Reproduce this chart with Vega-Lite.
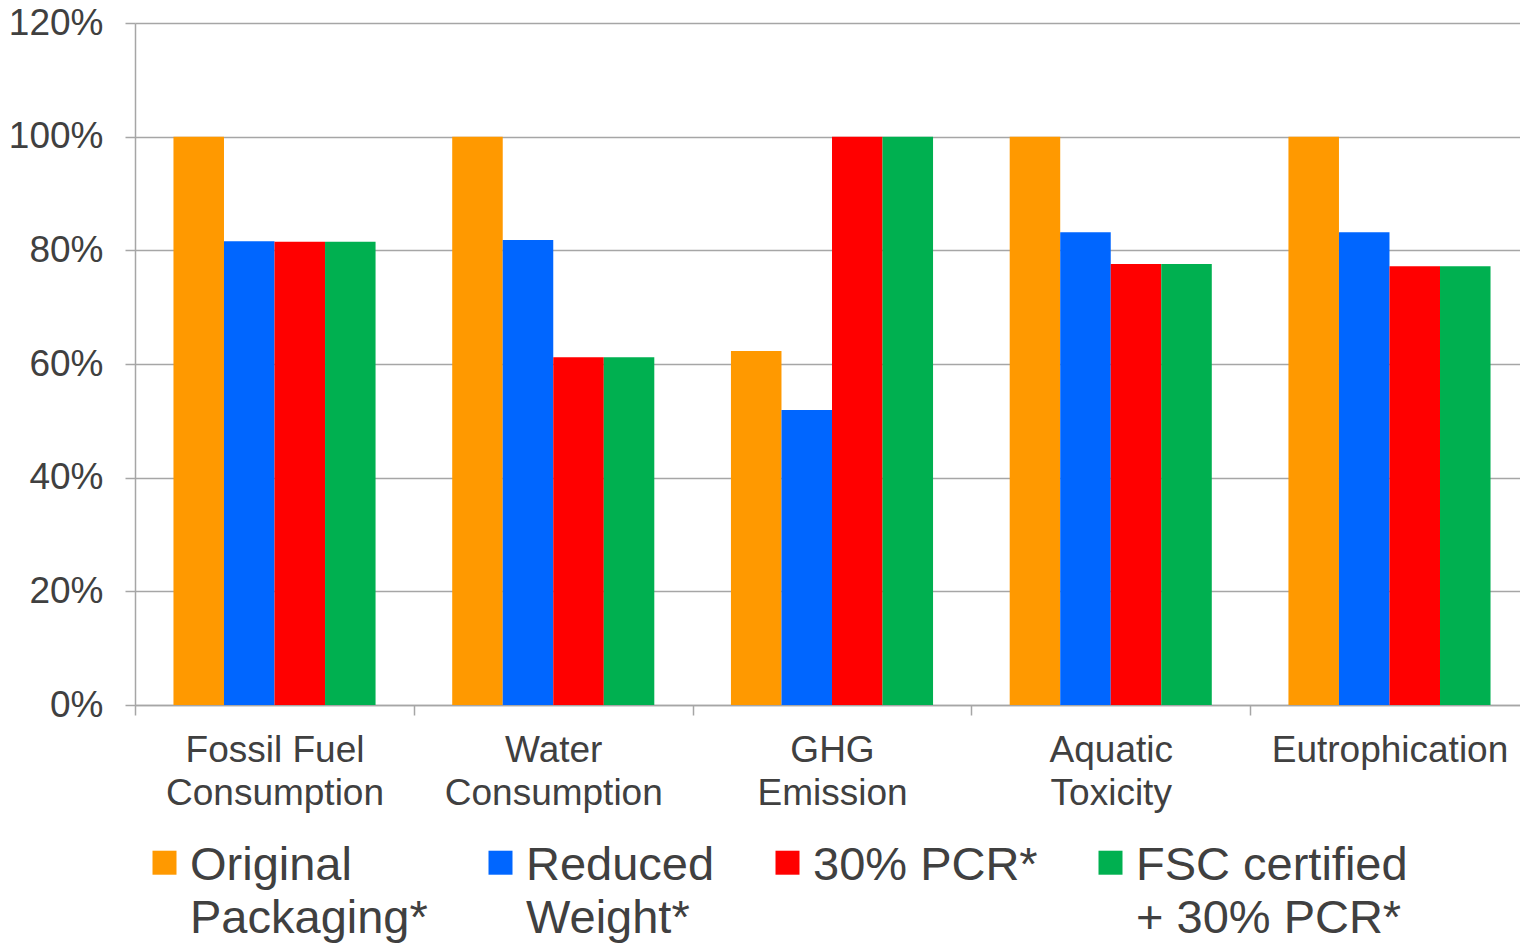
{
  "$schema": "https://vega.github.io/schema/vega-lite/v6.json",
  "width": 1385,
  "height": 682,
  "autosize": {"type": "none"},
  "padding": {"left": 135, "top": 23, "right": 0, "bottom": 238},
  "background": "white",
  "config": {
    "view": {"stroke": null},
    "font": "Liberation Sans",
    "style": {"guide-label": {"lineHeight": 53}}
  },
  "data": {
    "values": [
      {"category": "Fossil Fuel Consumption", "series": "Original Packaging*", "value": 1.0},
      {"category": "Fossil Fuel Consumption", "series": "Reduced Weight*", "value": 0.816},
      {"category": "Fossil Fuel Consumption", "series": "30% PCR*", "value": 0.815},
      {"category": "Fossil Fuel Consumption", "series": "FSC certified + 30% PCR*", "value": 0.815},
      {"category": "Water Consumption", "series": "Original Packaging*", "value": 1.0},
      {"category": "Water Consumption", "series": "Reduced Weight*", "value": 0.818},
      {"category": "Water Consumption", "series": "30% PCR*", "value": 0.612},
      {"category": "Water Consumption", "series": "FSC certified + 30% PCR*", "value": 0.612},
      {"category": "GHG Emission", "series": "Original Packaging*", "value": 0.623},
      {"category": "GHG Emission", "series": "Reduced Weight*", "value": 0.519},
      {"category": "GHG Emission", "series": "30% PCR*", "value": 1.0},
      {"category": "GHG Emission", "series": "FSC certified + 30% PCR*", "value": 1.0},
      {"category": "Aquatic Toxicity", "series": "Original Packaging*", "value": 1.0},
      {"category": "Aquatic Toxicity", "series": "Reduced Weight*", "value": 0.832},
      {"category": "Aquatic Toxicity", "series": "30% PCR*", "value": 0.776},
      {"category": "Aquatic Toxicity", "series": "FSC certified + 30% PCR*", "value": 0.776},
      {"category": "Eutrophication", "series": "Original Packaging*", "value": 1.0},
      {"category": "Eutrophication", "series": "Reduced Weight*", "value": 0.832},
      {"category": "Eutrophication", "series": "30% PCR*", "value": 0.772},
      {"category": "Eutrophication", "series": "FSC certified + 30% PCR*", "value": 0.772}
    ]
  },
  "mark": {"type": "bar"},
  "encoding": {
    "x": {
      "field": "category",
      "type": "nominal",
      "sort": ["Fossil Fuel Consumption", "Water Consumption", "GHG Emission", "Aquatic Toxicity", "Eutrophication"],
      "scale": {"range": [0, 1394], "paddingInner": 0.275, "paddingOuter": 0.138},
      "axis": {
        "title": null,
        "labelAngle": 0,
        "labelFontSize": 37,
        "labelColor": "#404040",
        "labelLineHeight": 43,
        "labelPadding": 17,
        "labelLimit": 400,
        "tickBand": "center",
        "tickOffset": -139.4,
        "labelOffset": 139.4,
        "tickSize": 10,
        "tickColor": "#A6A6A6",
        "domainColor": "#A6A6A6",
        "domainWidth": 1.5,
        "tickWidth": 1.5,
        "labelExpr": "datum.value == 'Fossil Fuel Consumption' ? ['Fossil Fuel', 'Consumption'] : datum.value == 'Water Consumption' ? ['Water', 'Consumption'] : datum.value == 'GHG Emission' ? ['GHG', 'Emission'] : datum.value == 'Aquatic Toxicity' ? ['Aquatic', 'Toxicity'] : datum.value"
      }
    },
    "xOffset": {
      "field": "series",
      "type": "nominal",
      "sort": ["Original Packaging*", "Reduced Weight*", "30% PCR*", "FSC certified + 30% PCR*"],
      "scale": {"paddingInner": 0, "paddingOuter": 0}
    },
    "y": {
      "field": "value",
      "type": "quantitative",
      "scale": {"domain": [0, 1.2], "nice": false},
      "axis": {
        "title": null,
        "format": ".0%",
        "values": [0, 0.2, 0.4, 0.6, 0.8, 1.0, 1.2],
        "labelFontSize": 37,
        "labelColor": "#404040",
        "labelPadding": 22,
        "tickSize": 10,
        "tickColor": "#A6A6A6",
        "tickWidth": 1.5,
        "domainColor": "#A6A6A6",
        "domainWidth": 1.5,
        "gridColor": "#A6A6A6",
        "gridWidth": 1.5
      }
    },
    "color": {
      "field": "series",
      "type": "nominal",
      "scale": {
        "domain": ["Original Packaging*", "Reduced Weight*", "30% PCR*", "FSC certified + 30% PCR*"],
        "range": ["#FF9900", "#0066FF", "#FF0000", "#00B050"]
      },
      "legend": {
        "title": null,
        "orient": "none",
        "direction": "horizontal",
        "legendX": 6,
        "legendY": 833,
        "padding": 0,
        "columnPadding": 49,
        "symbolType": "M-1,-2.42H1V-0.42H-1Z",
        "symbolSize": 576,
        "symbolStrokeWidth": 0,
        "symbolOpacity": 1,
        "labelFontSize": 47,
        "labelColor": "#404040",
        "labelOffset": 2,
        "labelLimit": 500,
        "labelBaseline": "alphabetic",
        "labelExpr": "datum.label == 'Original Packaging*' ? ['Original', 'Packaging*'] : datum.label == 'Reduced Weight*' ? ['Reduced', 'Weight*'] : datum.label == 'FSC certified + 30% PCR*' ? ['FSC certified', '+ 30% PCR*'] : ['30% PCR*', ' ']"
      }
    }
  }
}
